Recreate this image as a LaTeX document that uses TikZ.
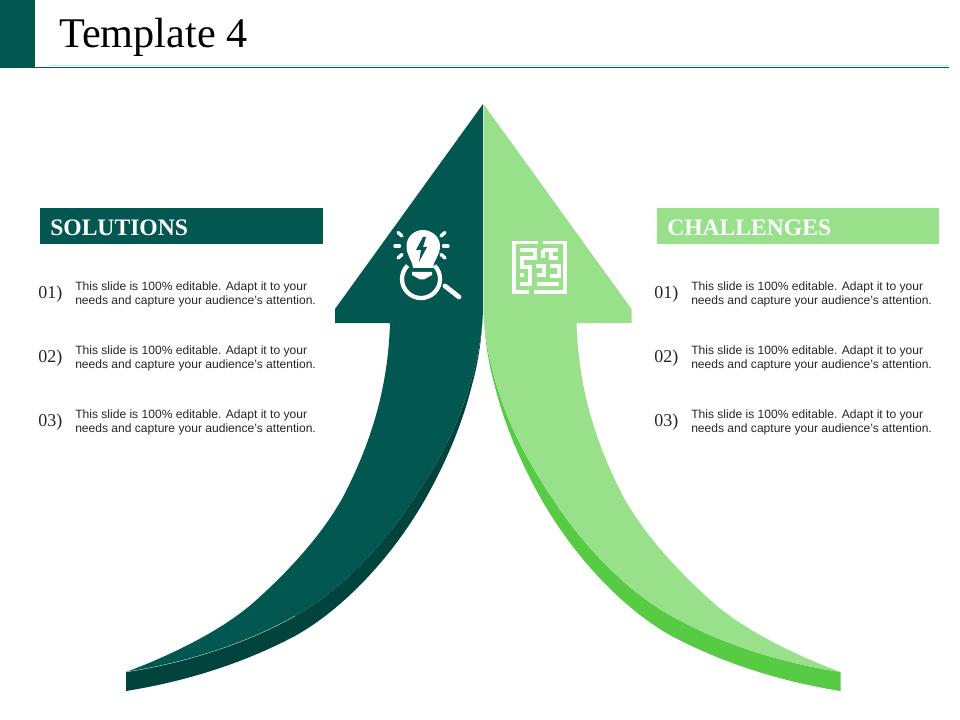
\documentclass[tikz,border=0pt]{standalone}
\usepackage{fontspec}
\setmainfont{Liberation Serif}
\setsansfont{Liberation Sans}
\definecolor{dkgreen}{HTML}{025750}
\definecolor{dkshade}{HTML}{01443E}
\definecolor{ltgreen}{HTML}{99E08A}
\definecolor{ltshade}{HTML}{58CB45}
\definecolor{rulecol}{HTML}{BFE6E6}
\tikzset{
  hdr/.style={anchor=west,font=\bfseries\fontsize{17.7}{20}\selectfont,text=#1},
  num/.style={anchor=west,inner sep=0pt,font=\fontsize{13.5}{15}\selectfont,text=black!85},
  body/.style={anchor=west,inner sep=0pt,align=left,font=\sffamily\fontsize{9.05}{10.5}\selectfont,text=black!85},
  ico/.style={white,line width=2.6pt,line cap=round}
}
\newcommand{\arrowparts}[2]{%
  \fill[#2] (126,672) -- (126,691)
    .. controls (182,682) and (240,665) .. (295,636)
    .. controls (345,608) and (392,556) .. (423,503)
    .. controls (445,465) and (462,425) .. (472,385)
    .. controls (479,360) and (482,335) .. (483,310)
    .. controls (482,335) and (478,358) .. (470,385)
    .. controls (458,425) and (440,460) .. (413,500)
    .. controls (385,543) and (342,590) .. (295,616)
    .. controls (240,647) and (178,664) .. (126,672) -- cycle;
  \fill[#1] (483,104) -- (335,309) -- (335,323) -- (390,323)
    .. controls (388,390) and (370,445) .. (343,497)
    .. controls (322,535) and (288,572) .. (253,603)
    .. controls (222,630) and (172,655) .. (126,672)
    .. controls (178,664) and (240,647) .. (295,616)
    .. controls (342,590) and (385,543) .. (413,500)
    .. controls (440,460) and (458,425) .. (470,385)
    .. controls (478,358) and (482,335) .. (483,310) -- cycle;
}
\begin{document}
\begin{tikzpicture}[x=0.75pt,y=-0.75pt]
\useasboundingbox (0,0) rectangle (960,720);
% header
\fill[dkgreen] (0,0) rectangle (35,68);
\draw[rulecol,line width=0.6pt] (50,65) -- (949,65);
\draw[dkgreen,line width=0.6pt] (35,67.3) -- (949,67.3);
\node[anchor=west,inner sep=0pt,font=\fontsize{31.7}{34}\selectfont] (title) at (59,37) {Template 4};
% left arrow
\arrowparts{dkgreen}{dkshade}
\draw[white!70!dkgreen,line width=0.3pt] (126,672) .. controls (178,664) and (240,647) .. (295,616);
% right arrow
\begin{scope}[shift={(966.5,0)},xscale=-1]
\arrowparts{ltgreen}{ltshade}
\end{scope}
% banners
\node[fill=dkgreen,minimum width=283*0.75pt,minimum height=36*0.75pt,inner sep=0pt,anchor=west] (solbar) at (40,226) {};
\node[hdr=white,inner sep=0pt] (sol) at (50,228) {SOLUTIONS};
\node[fill=ltgreen,minimum width=282*0.75pt,minimum height=36*0.75pt,inner sep=0pt,anchor=west] (chbar) at (657,226) {};
\node[hdr=white,inner sep=0pt] (ch) at (667,228) {CHALLENGES};
% lists
\foreach \n/\y/\lab in {a/292/01),b/356/02),c/420/03)}{
  \node[num] (ln\n) at (38,\y+2) {\lab};
  \node[body] (lt\n) at (75,\y+2) {This slide is 100\% editable. Adapt it to your\\needs and capture your audience's attention.};
  \node[num] (rn\n) at (654,\y+2) {\lab};
  \node[body] (rt\n) at (691,\y+2) {This slide is 100\% editable. Adapt it to your\\needs and capture your audience's attention.};
}
% bulb icon
\fill[white] (413,268) .. controls (412,259) and (406.5,256) .. (406.5,246)
  .. controls (406.5,237) and (414,230) .. (423,230)
  .. controls (432,230) and (440,237) .. (440,246)
  .. controls (440,256) and (434,259) .. (433,268) -- cycle;
\fill[dkgreen] (423,237) -- (416,250) -- (421,250) -- (419,262) -- (427,247) -- (423,247) -- (426,237) -- cycle;
\fill[white] (412,272) -- (432,272) -- (432,275) .. controls (429,277) and (426,278) .. (424,279.5) -- (420,279.5) .. controls (418,278) and (415,277) .. (412,275) -- cycle;
\draw[ico] (395,246) -- (399.5,246);
\draw[ico] (443.5,246) -- (448,246);
\draw[ico] (398,232.5) -- (402,236);
\draw[ico] (445,232.5) -- (441,236);
\draw[ico] (398,258) -- (402,254.5);
\draw[ico] (445,258) -- (441,254.5);
\draw[white,line width=3.2pt] (407.6,265.6) arc[start angle=225,end angle=-45,radius=19];
\draw[white,line width=3.6pt,line cap=round] (445,286) -- (459,297);
% maze icon
\begin{scope}[white,line width=2.9pt,line cap=butt]
\draw (538,242.5) -- (514,242.5) -- (514,292) -- (529,292);
\draw (543,242.5) -- (565,242.5) -- (565,292) -- (534,292);
\draw (520,250) -- (535,250) -- (535,258) -- (522,258) -- (522,267) -- (530,267) -- (530,284) -- (520,284);
\draw (520,275) -- (524,275);
\draw (543,250) -- (558,250);
\draw (543,250) -- (543,258);
\draw (536,266) -- (544,266) -- (544,275) -- (537,275);
\draw (551,250) -- (551,258) -- (558,258);
\draw (550,266) -- (559,266) -- (559,276) -- (550,276);
\draw (537,284) -- (559,284);
\end{scope}
\end{tikzpicture}
\end{document}
